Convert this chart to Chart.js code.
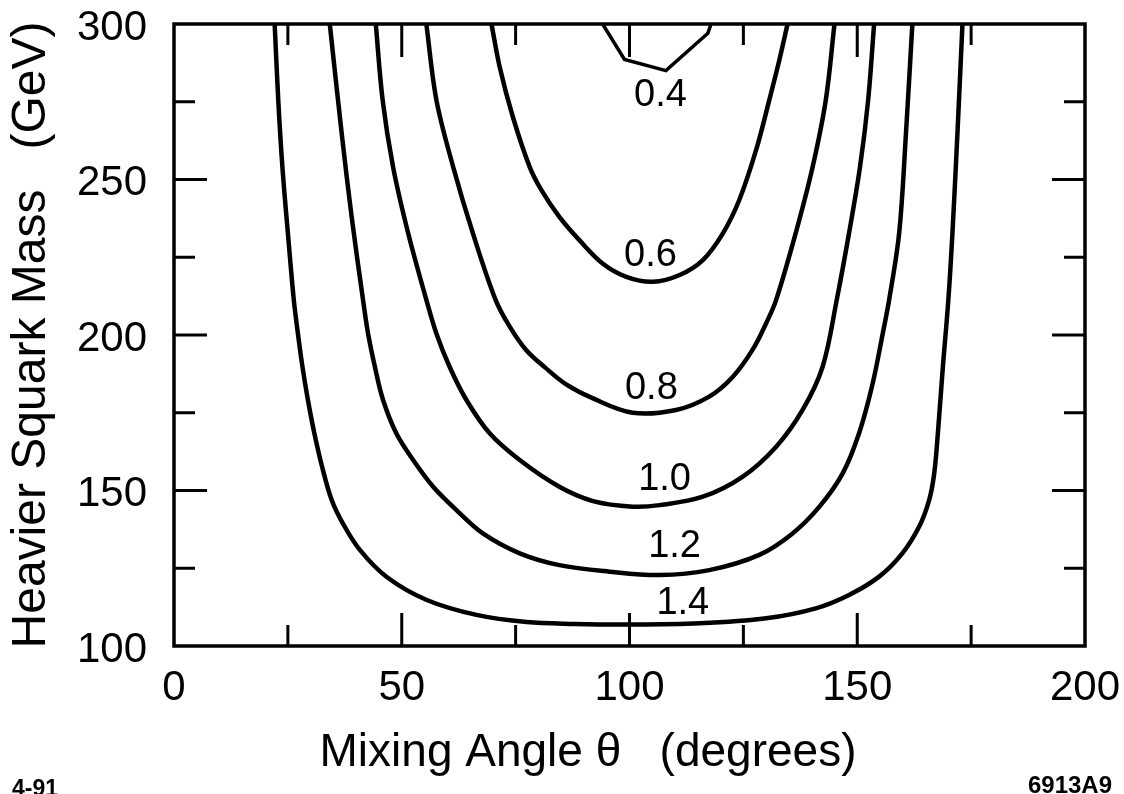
<!DOCTYPE html>
<html>
<head>
<meta charset="utf-8">
<title>Heavier Squark Mass vs Mixing Angle</title>
<script src="https://cdn.jsdelivr.net/npm/chart.js@4.4.1/dist/chart.umd.min.js"></script>
<style>
  html, body { margin: 0; padding: 0; background: #fff; }
  canvas { display: block; }
</style>
</head>
<body>
<canvas id="myChart" width="1124" height="794"></canvas>
<script>
// contour levels and where their labels sit
const levels = ["0.4", "0.6", "0.8", "1.0", "1.2", "1.4"];
const labelX = [106.8, 104.6, 104.8, 107.7, 109.9, 111.7];
const labelY = [276.9, 225.7, 182.9, 153.4, 132, 113.7];

// contour lines (mixing angle in degrees, squark mass in GeV)
const c04x = [94.1, 98.9, 108.0, 117.2, 117.9];
const c04y = [300, 288.6, 285, 297, 300];

const c06x = [69.7, 71.5, 74.4, 78.1, 80.7, 84.6, 89.0, 94.1, 99.3, 105.1, 111.0, 116.1, 120.5, 124.1, 127.8, 130.7, 132.9, 134.7];
const c06y = [300, 286.2, 270.1, 254, 246.5, 238, 230.5, 223, 218.7, 217.1, 219.3, 224.1, 232.7, 243.4, 259.5, 275.6, 288.4, 300];

const c08x = [55.4, 57.6, 61.3, 65.6, 70.6, 73.7, 77.3, 81.5, 86.0, 92.0, 100.7, 110.2, 117.5, 122.7, 127.0, 130.0, 132.2, 136.5, 140.2, 143.1, 145.0];
const c08y = [300, 275.6, 254, 232.8, 211.3, 202.7, 195.2, 189.5, 184.2, 179.6, 175, 175.9, 180.2, 186.6, 195.2, 203.8, 211.3, 232.8, 254, 275.6, 300];

const c10x = [44.3, 45.8, 48.1, 51.4, 55.4, 57.6, 60.5, 64.2, 69.3, 75.9, 84.6, 92.0, 100.7, 106.6, 116.1, 124.8, 132.2, 138.0, 142.4, 145.5, 148.2, 150.6, 152.4, 153.7];
const c10y = [300, 275.6, 254, 232.8, 211.3, 200.5, 189.8, 179.1, 168.4, 159.8, 151.2, 146.6, 144.8, 145.3, 148, 154.4, 164.1, 175.9, 189.8, 211.3, 232.8, 254, 275.6, 300];

const c12x = [34.2, 36.8, 39.0, 41.5, 42.6, 44.1, 45.9, 48.8, 52.5, 56.9, 62.0, 67.8, 75.9, 84.6, 95.6, 106.6, 117.5, 128.5, 135.8, 141.7, 146.8, 150.4, 153.4, 155.6, 157.0, 159.2, 160.7, 162.1];
const c12y = [300, 265, 238, 211.3, 200.5, 189.8, 179.1, 168.4, 159.8, 151.2, 143.7, 136.2, 129.8, 126, 123.9, 122.8, 124.4, 129.3, 136.2, 144.8, 155.5, 168.4, 184.5, 200.5, 211.3, 232.8, 265, 300];

const c14x = [22.1, 22.9, 23.8, 25.0, 26.3, 27.2, 28.2, 29.4, 30.8, 32.5, 34.6, 37.0, 40.8, 46.7, 55.5, 66.4, 77.4, 88.0, 99.0, 115.4, 130.0, 140.9, 148.2, 154.8, 159.9, 163.6, 165.8, 166.9, 167.7, 168.8, 170.0, 170.9, 172.0, 173.1];
const c14y = [300, 275.2, 254, 232.8, 211.3, 200.5, 189.8, 179.1, 168.5, 157.7, 147, 139.6, 130.9, 122.2, 114.8, 110, 107.7, 107.1, 106.9, 107.3, 108.9, 112.1, 116.4, 122.3, 129.8, 138.4, 147, 155.5, 168.4, 189.8, 211.3, 232.8, 265, 300];

// axis ticks
const xTicks = [0, 50, 100, 150, 200];
const yTicks = [100, 150, 200, 250, 300];
const xMinorTicks = [25, 75, 125, 175];
const yMinorTicks = [125, 175, 225, 275];

const xTitle = "Mixing Angle \u03b8   (degrees)";
const yTitle = "Heavier Squark Mass   (GeV)";
const dateNote = "4-91";
const figNote = "6913A9";

document.addEventListener("DOMContentLoaded", function () {

  const fontFamily = "'Liberation Sans', Arial, Helvetica, sans-serif";
  Chart.defaults.font.family = fontFamily;
  Chart.defaults.color = "#000";

  const toPoints = (xs, ys) => xs.map((x, i) => ({ x: x, y: ys[i] }));
  const contours = [[c04x, c04y], [c06x, c06y], [c08x, c08y], [c10x, c10y], [c12x, c12y], [c14x, c14y]];

  const datasets = contours.map((c, i) => ({
    label: levels[i],
    data: toPoints(c[0], c[1]),
    showLine: true,
    borderColor: "#000",
    borderWidth: i === 0 ? 3.5 : 4.5,
    pointRadius: 0,
    fill: false,
    tension: i === 0 ? 0 : 0.35
  }));

  // frame, inward ticks, contour labels and notes
  const decorations = {
    id: "decorations",
    afterDatasetsDraw(chart) {
      const { ctx, chartArea: a, scales: { x, y } } = chart;
      ctx.save();
      ctx.strokeStyle = "#000";
      ctx.lineCap = "butt";

      // ticks on all four sides
      ctx.lineWidth = 3;
      const drawX = (vals, len) => vals.forEach(v => {
        const px = x.getPixelForValue(v);
        ctx.beginPath();
        ctx.moveTo(px, a.bottom); ctx.lineTo(px, a.bottom - len);
        ctx.moveTo(px, a.top); ctx.lineTo(px, a.top + len);
        ctx.stroke();
      });
      const drawY = (vals, len) => vals.forEach(v => {
        const py = y.getPixelForValue(v);
        ctx.beginPath();
        ctx.moveTo(a.left, py); ctx.lineTo(a.left + len, py);
        ctx.moveTo(a.right, py); ctx.lineTo(a.right - len, py);
        ctx.stroke();
      });
      drawX(xTicks.slice(1, -1), 33);
      drawX(xMinorTicks, 21);
      drawY(yTicks.slice(1, -1), 33);
      drawY(yMinorTicks, 21);

      // box
      ctx.lineWidth = 3.5;
      ctx.strokeRect(a.left, a.top, a.right - a.left, a.bottom - a.top);

      // contour labels
      ctx.fillStyle = "#000";
      ctx.font = "38px " + fontFamily;
      ctx.textAlign = "center";
      ctx.textBaseline = "middle";
      levels.forEach((t, i) => {
        ctx.fillText(t, x.getPixelForValue(labelX[i]), y.getPixelForValue(labelY[i]));
      });

      // x axis title
      ctx.textBaseline = "alphabetic";
      ctx.font = "46px " + fontFamily;
      ctx.fillText(xTitle, 588, 766);

      // corner notes
      ctx.font = "bold 23px " + fontFamily;
      ctx.textAlign = "left";
      ctx.fillText(dateNote, 12, 796);
      ctx.font = "bold 24px " + fontFamily;
      ctx.textAlign = "right";
      ctx.fillText(figNote, 1112, 793);
      ctx.restore();
    }
  };

  const config = {
    type: "scatter",
    data: { datasets },
    options: {
      responsive: false,
      animation: false,
      devicePixelRatio: 1,
      layout: { padding: { top: 24, right: 39, left: 0, bottom: 0 } },
      plugins: {
        legend: { display: false },
        tooltip: { enabled: false }
      },
      scales: {
        x: {
          type: "linear",
          min: 0,
          max: 200,
          grid: { display: false, drawTicks: false },
          border: { display: false },
          afterBuildTicks: scale => { scale.ticks = xTicks.map(v => ({ value: v })); },
          afterFit: scale => {
            scale.height = 148;
            scale.paddingLeft = 0;
            scale.paddingRight = 0;
          },
          ticks: {
            autoSkip: false,
            maxRotation: 0,
            padding: 21,
            font: { size: 42, lineHeight: 1 },
            color: "#000"
          }
        },
        y: {
          type: "linear",
          min: 100,
          max: 300,
          grid: { display: false, drawTicks: false },
          border: { display: false },
          afterBuildTicks: scale => { scale.ticks = yTicks.map(v => ({ value: v })); },
          afterFit: scale => {
            scale.width = 174;
            scale.paddingTop = 0;
            scale.paddingBottom = 0;
          },
          ticks: {
            autoSkip: false,
            padding: 27,
            labelOffset: 4,
            font: { size: 42, lineHeight: 1 },
            color: "#000"
          },
          title: {
            display: true,
            text: yTitle,
            font: { size: 48, lineHeight: 1 },
            padding: { top: 8, bottom: 0 },
            color: "#000"
          }
        }
      }
    },
    plugins: [decorations]
  };

  const myChart = new Chart(document.getElementById("myChart"), config);
});
</script>
</body>
</html>
